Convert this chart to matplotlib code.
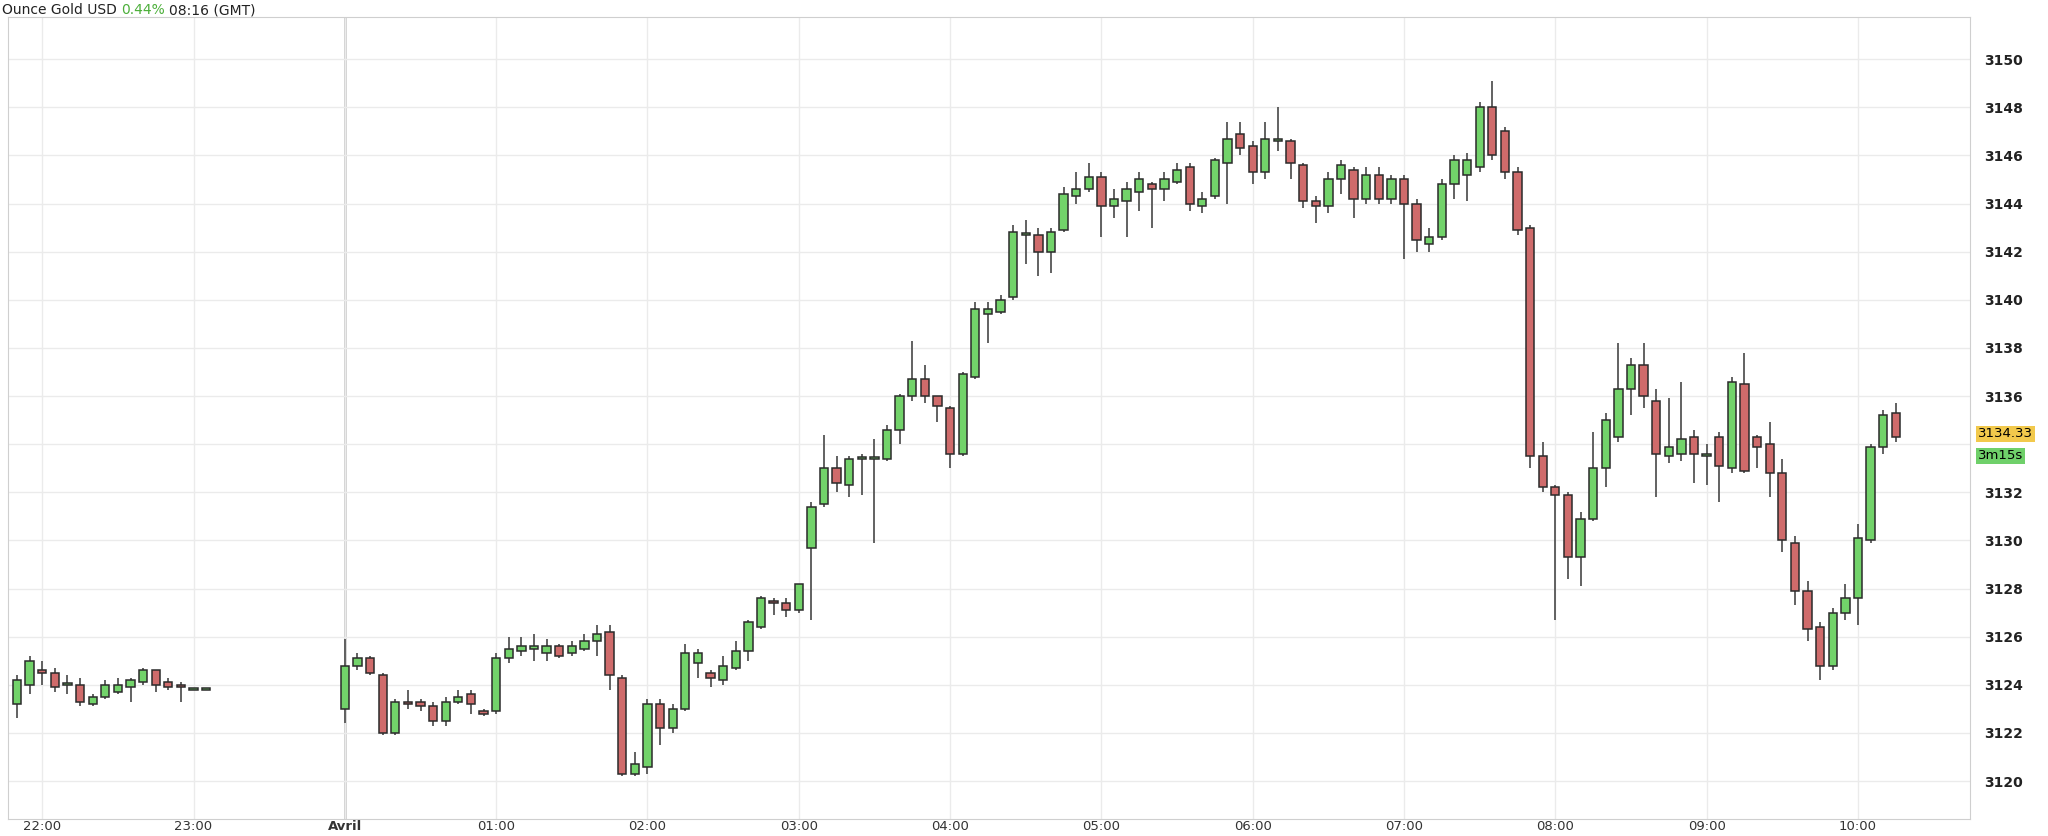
import numpy as np
import matplotlib
matplotlib.use("Agg")
import matplotlib.pyplot as plt

# 5-minute candles, times (GMT), 2 sessions separated by the closing gap
times = ["21:50", "21:55", "22:00", "22:05", "22:10", "22:15", "22:20", "22:25",
         "22:30", "22:35", "22:40", "22:45", "22:50", "22:55", "23:00", "23:05"]
times += ["%02d:%02d" % (h, m) for h in range(0, 11) for m in range(0, 60, 5)][:124]

opens = [3123.2, 3124.0, 3124.6, 3124.5, 3124.0, 3124.0, 3123.2, 3123.5, 3123.7, 3123.9, 3124.1, 3124.6, 3124.1, 3124.0, 3123.8, 3123.8,
         3123.0, 3124.8, 3125.1, 3124.4, 3122.0, 3123.3, 3123.3, 3123.1, 3122.5, 3123.3, 3123.6, 3122.9,
         3122.9, 3125.1, 3125.4, 3125.5, 3125.3, 3125.6, 3125.3, 3125.5, 3125.8, 3126.2, 3124.3, 3120.3,
         3120.6, 3123.2, 3122.2, 3123.0, 3124.9, 3124.5, 3124.2, 3124.7, 3125.4, 3126.4, 3127.5, 3127.4,
         3127.1, 3129.7, 3131.5, 3133.0, 3132.3, 3133.4, 3133.4, 3133.4, 3134.6, 3136.0, 3136.7, 3136.0,
         3135.5, 3133.6, 3136.8, 3139.4, 3139.5, 3140.1, 3142.7, 3142.7, 3142.0, 3142.9, 3144.3, 3144.6,
         3145.1, 3143.9, 3144.1, 3144.5, 3144.8, 3144.6, 3144.9, 3145.5, 3143.9, 3144.3, 3145.7, 3146.9,
         3146.4, 3145.3, 3146.6, 3146.6, 3145.6, 3144.1, 3143.9, 3145.0, 3145.4, 3144.2, 3145.2, 3144.2,
         3145.0, 3144.0, 3142.3, 3142.6, 3144.8, 3145.2, 3145.5, 3148.0, 3147.0, 3145.3, 3143.0, 3133.5,
         3132.2, 3131.9, 3129.3, 3130.9, 3133.0, 3134.3, 3136.3, 3137.3, 3135.8, 3133.5, 3133.6, 3134.3,
         3133.5, 3134.3, 3133.0, 3136.5, 3134.3, 3134.0, 3132.8, 3129.9, 3127.9, 3126.4, 3124.8, 3127.0,
         3127.6, 3130.0, 3133.9, 3135.3]
highs = [3124.4, 3125.2, 3125.0, 3124.7, 3124.4, 3124.3, 3123.6, 3124.2, 3124.3, 3124.3, 3124.7, 3124.6, 3124.3, 3124.1, 3123.8, 3123.8,
         3125.9, 3125.3, 3125.2, 3124.5, 3123.4, 3123.8, 3123.4, 3123.3, 3123.5, 3123.8, 3123.8, 3123.0,
         3125.3, 3126.0, 3126.0, 3126.1, 3125.9, 3125.7, 3125.8, 3126.1, 3126.5, 3126.5, 3124.4, 3121.2,
         3123.4, 3123.4, 3123.2, 3125.7, 3125.5, 3124.6, 3125.2, 3125.8, 3126.7, 3127.7, 3127.6, 3127.6,
         3128.2, 3131.6, 3134.4, 3133.5, 3133.5, 3133.6, 3134.2, 3134.8, 3136.1, 3138.3, 3137.3, 3136.0,
         3135.6, 3137.0, 3139.9, 3139.9, 3140.2, 3143.1, 3143.3, 3143.0, 3143.0, 3144.7, 3145.3, 3145.7,
         3145.3, 3144.6, 3144.9, 3145.3, 3144.9, 3145.3, 3145.7, 3145.7, 3144.5, 3145.9, 3147.4, 3147.4,
         3146.6, 3147.4, 3148.0, 3146.7, 3145.7, 3144.3, 3145.3, 3145.8, 3145.5, 3145.5, 3145.5, 3145.2,
         3145.2, 3144.2, 3143.0, 3145.0, 3146.0, 3146.1, 3148.2, 3149.1, 3147.2, 3145.5, 3143.1, 3134.1,
         3132.3, 3132.0, 3131.2, 3134.5, 3135.3, 3138.2, 3137.6, 3138.2, 3136.3, 3135.9, 3136.6, 3134.6,
         3134.0, 3134.5, 3136.8, 3137.8, 3134.4, 3134.9, 3133.4, 3130.2, 3128.3, 3126.6, 3127.2, 3128.2,
         3130.7, 3134.0, 3135.4, 3135.7]
lows = [3122.6, 3123.6, 3124.0, 3123.7, 3123.6, 3123.1, 3123.1, 3123.4, 3123.6, 3123.3, 3124.0, 3123.7, 3123.8, 3123.3, 3123.8, 3123.8,
        3122.4, 3124.6, 3124.4, 3121.9, 3121.9, 3123.0, 3122.9, 3122.3, 3122.3, 3123.2, 3122.8, 3122.7,
        3122.8, 3124.9, 3125.2, 3125.0, 3125.0, 3125.1, 3125.2, 3125.4, 3125.2, 3123.8, 3120.2, 3120.2,
        3120.3, 3121.5, 3122.0, 3122.9, 3124.3, 3123.9, 3124.0, 3124.6, 3125.0, 3126.3, 3126.9, 3126.8,
        3127.0, 3126.7, 3131.4, 3132.0, 3131.8, 3131.9, 3129.9, 3133.3, 3134.0, 3135.8, 3135.7, 3134.9,
        3133.0, 3133.5, 3136.7, 3138.2, 3139.4, 3140.0, 3141.5, 3141.0, 3141.1, 3142.8, 3144.0, 3144.5,
        3142.6, 3143.4, 3142.6, 3143.7, 3143.0, 3144.1, 3144.8, 3143.7, 3143.6, 3144.2, 3144.0, 3146.0,
        3144.8, 3145.0, 3146.2, 3145.0, 3143.8, 3143.2, 3143.6, 3144.4, 3143.4, 3144.0, 3144.0, 3144.0,
        3141.7, 3142.0, 3142.0, 3142.5, 3144.2, 3144.1, 3145.3, 3145.8, 3145.0, 3142.7, 3133.0, 3132.0,
        3126.7, 3128.4, 3128.1, 3130.8, 3132.2, 3134.1, 3135.2, 3135.5, 3131.8, 3133.2, 3133.3, 3132.4,
        3132.3, 3131.6, 3132.8, 3132.8, 3133.0, 3131.8, 3129.5, 3127.3, 3125.8, 3124.2, 3124.6, 3126.7,
        3126.5, 3129.9, 3133.6, 3134.1]
closes = [3124.2, 3125.0, 3124.5, 3123.9, 3124.0, 3123.3, 3123.5, 3124.0, 3124.0, 3124.2, 3124.6, 3124.0, 3123.9, 3123.9, 3123.8, 3123.8,
          3124.8, 3125.1, 3124.5, 3122.0, 3123.3, 3123.2, 3123.1, 3122.5, 3123.3, 3123.5, 3123.2, 3122.8,
          3125.1, 3125.5, 3125.6, 3125.6, 3125.6, 3125.2, 3125.6, 3125.8, 3126.1, 3124.4, 3120.3, 3120.7,
          3123.2, 3122.2, 3123.0, 3125.3, 3125.3, 3124.3, 3124.8, 3125.4, 3126.6, 3127.6, 3127.4, 3127.1,
          3128.2, 3131.4, 3133.0, 3132.4, 3133.4, 3133.4, 3133.4, 3134.6, 3136.0, 3136.7, 3136.0, 3135.6,
          3133.6, 3136.9, 3139.6, 3139.6, 3140.0, 3142.8, 3142.7, 3142.0, 3142.8, 3144.4, 3144.6, 3145.1,
          3143.9, 3144.2, 3144.6, 3145.0, 3144.6, 3145.0, 3145.4, 3144.0, 3144.2, 3145.8, 3146.7, 3146.3,
          3145.3, 3146.7, 3146.6, 3145.7, 3144.1, 3143.9, 3145.0, 3145.6, 3144.2, 3145.2, 3144.2, 3145.0,
          3144.0, 3142.5, 3142.6, 3144.8, 3145.8, 3145.8, 3148.0, 3146.0, 3145.3, 3142.9, 3133.5, 3132.2,
          3131.9, 3129.3, 3130.9, 3133.0, 3135.0, 3136.3, 3137.3, 3136.0, 3133.6, 3133.9, 3134.2, 3133.6,
          3133.6, 3133.1, 3136.6, 3132.9, 3133.9, 3132.8, 3130.0, 3127.9, 3126.3, 3124.8, 3127.0, 3127.6,
          3130.1, 3133.9, 3135.2, 3134.3]

last_price = 3134.33
y_ticks = list(range(3120, 3151, 2))
x_tick_labels = ["22:00", "23:00", "Avril", "01:00", "02:00", "03:00", "04:00",
                 "05:00", "06:00", "07:00", "08:00", "09:00", "10:00"]


def to_minutes(t):
    h, m = map(int, t.split(":"))
    mins = h * 60 + m
    return mins - 1440 if h >= 12 else mins


x = np.array([to_minutes(t) for t in times], dtype=float)
o = np.array(opens); h = np.array(highs); l = np.array(lows); c = np.array(closes)
up = c >= o

fig = plt.figure(figsize=(20.48, 8.36), dpi=100)
ax = fig.add_axes([0.004, 0.0203, 0.958, 0.959])

green = "#72d36a"
red = "#cf6b6b"
ax.vlines(x, l, h, color="#555555", linewidth=1.3, zorder=2)
body_lo = np.minimum(o, c)
body_h = np.maximum(np.abs(c - o), 0.08)
ax.bar(x, body_h, bottom=body_lo, width=3.3, color=np.where(up, green, red),
       edgecolor="#2b2b2b", linewidth=1.1, zorder=3)

ymin, ymax = 3118.42, 3151.74
ax.set_xlim(-133.5, 644.5)
ax.set_ylim(ymin, ymax)
x_ticks = [-120, -60] + list(range(0, 601, 60))
ax.set_xticks(x_ticks)
ax.set_xticklabels(x_tick_labels, fontsize=9.5, color="#333333")
for lab in ax.get_xticklabels():
    if lab.get_text() == "Avril":
        lab.set_fontweight("bold")
ax.yaxis.tick_right()
ax.set_yticks(y_ticks)
# the 3134 label sits under the last-price tags
ax.set_yticklabels(["" if abs(v - last_price) < 1 else str(v) for v in y_ticks],
                   fontsize=10, fontweight="bold", color="#222222")
ax.tick_params(axis="x", length=0, pad=1)
ax.tick_params(axis="y", length=0, pad=10)
ax.grid(True, color="#ebebeb", linewidth=1.0, zorder=0)
ax.axvline(0, color="#cccccc", linewidth=2, zorder=1)
for s in ax.spines.values():
    s.set_color("#cfcfcf")

# last price tags
ax.text(1.004, (last_price + 0.1 - ymin) / (ymax - ymin), "%.2f" % last_price,
        transform=ax.transAxes, fontsize=9.5, va="center", ha="left",
        bbox=dict(boxstyle="square,pad=0.12", fc="#f2c94c", ec="none"))
ax.text(1.004, (last_price - 0.82 - ymin) / (ymax - ymin), "3m15s",
        transform=ax.transAxes, fontsize=9.5, va="center", ha="left",
        bbox=dict(boxstyle="square,pad=0.12", fc="#6fd06a", ec="none"))

# header: three pieces placed one after another
fig.canvas.draw()
r = fig.canvas.get_renderer()
xpos = 2
for txt, col in [("Ounce Gold USD", "#222222"), ("0.44%", "#4caf3a"), ("08:16 (GMT)", "#222222")]:
    t = fig.text(xpos / 2048, 0.996, txt, fontsize=10, va="top", ha="left", color=col)
    xpos += t.get_window_extent(r).width + 4

fig.savefig("out.png", dpi=100)
